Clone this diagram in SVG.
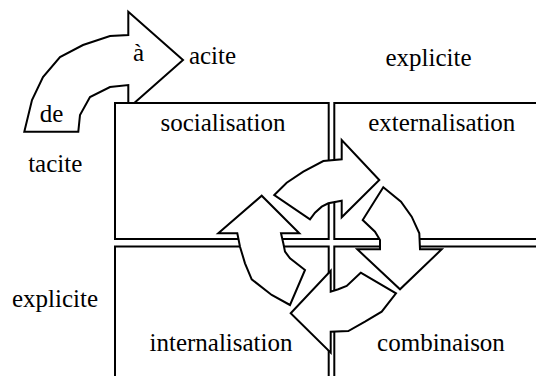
<svg xmlns="http://www.w3.org/2000/svg" width="536" height="376" viewBox="0 0 536 376">
<style>
text{font-family:'Liberation Serif','Times New Roman','DejaVu Serif',serif;font-size:25px;fill:#000;text-anchor:middle}
.box{fill:#fff;stroke:#000;stroke-width:2}
.arr{fill:#fff;stroke:#000;stroke-width:2;stroke-linejoin:miter}
</style>
<rect width="536" height="376" fill="#fff"/>
<g id="transfer-arrow">
<polygon class="arr" points="128.3,11.7 183,60 128.3,108.3 128.3,85 110,87 90,97 80,115 78.3,131.7 24.3,131.7 32,100 43,77 60,57 83,45 110,36 128.3,35"/>
<text x="138.5" y="61" font-family="Liberation Serif, serif">à</text>
<text x="51.5" y="121.7" font-family="Liberation Serif, serif">de</text>
</g>
<g id="labels" font-family="Liberation Serif, serif">
<text x="212.5" y="63.5">acite</text>
<text x="428.5" y="66">explicite</text>
<text x="55.2" y="171.7">tacite</text>
<text x="55" y="306.7">explicite</text>
</g>
<g id="socialisation">
<rect class="box" x="115" y="103" width="213.7" height="136"/>
<text x="223" y="130.7">socialisation</text>
</g>
<g id="externalisation">
<rect class="box" x="334.3" y="103" width="260" height="136"/>
<text x="441.8" y="130.7">externalisation</text>
</g>
<g id="internalisation">
<rect class="box" x="115" y="246.5" width="213.7" height="200"/>
<text x="221" y="351">internalisation</text>
</g>
<g id="combinaison">
<rect class="box" x="334.3" y="246.5" width="260" height="200"/>
<text x="441" y="351">combinaison</text>
</g>
<g id="connectors">
<polygon class="arr" points="274.3,195 286.7,182.7 303.3,171.7 323.3,161 341.7,159.3 341.7,140 379.3,180 341.7,217.3 341.7,200.7 328.3,203.3 321.7,206.7 315,212.7 310,219.3"/>
<polygon class="arr" points="383.3,187.3 401,201.7 411.7,216.7 419.3,233.3 420,249.3 441.7,249.3 400,289.3 357.3,249.3 380,249.3 380,240 375,231.7 362.7,220"/>
<polygon class="arr" points="360.7,272.7 396,293.3 381.7,311.7 365,321.7 348.3,331 330.7,331.7 330.7,352.7 290.7,313.3 330.7,270.7 330.7,291.7 338.3,289.3 346.7,286"/>
<polygon class="arr" points="290,305 271.7,295 251.7,279.3 245,263.3 240,246.7 237.3,233.3 218.3,233.3 261.7,195.7 299.3,233.3 281,233.3 283.3,243.3 285,251.7 290,258.3 305,270"/>
</g>
</svg>
